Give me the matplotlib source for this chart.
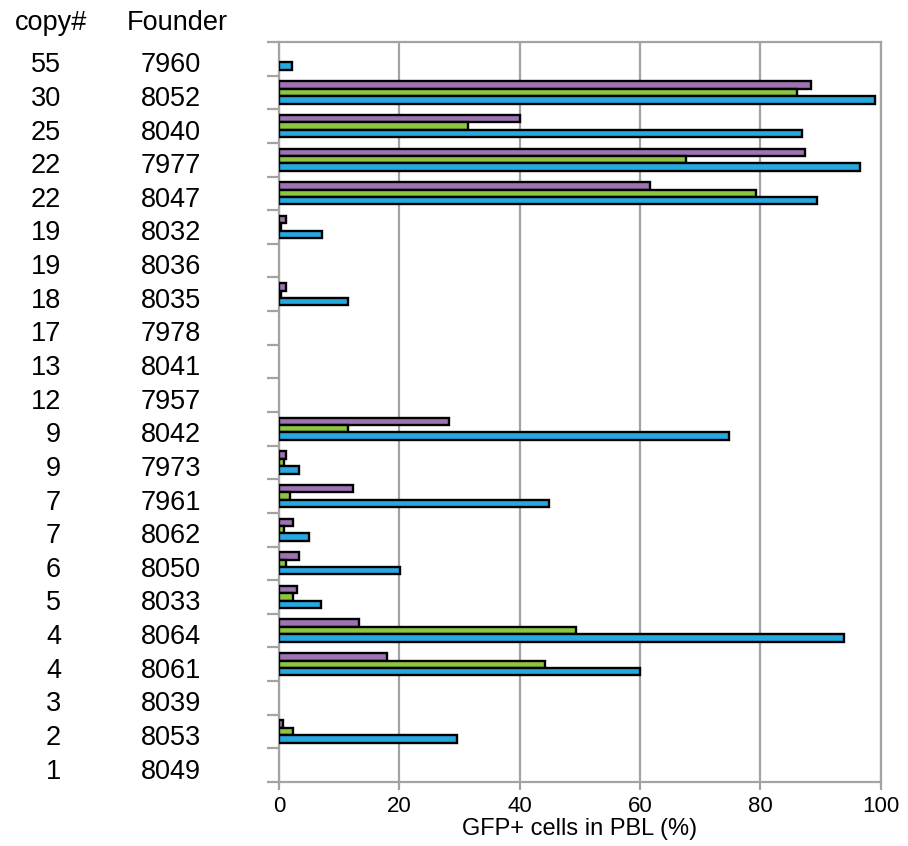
import numpy as np
import matplotlib.pyplot as plt
from matplotlib.transforms import blended_transform_factory

plt.rcParams['font.family'] = ['Liberation Sans', 'DejaVu Sans']

nan = np.nan
copies = [55, 30, 25, 22, 22, 19, 19, 18, 17, 13, 12, 9, 9, 7, 7, 6, 5, 4, 4, 3, 2, 1]
founders = ['7960', '8052', '8040', '7977', '8047', '8032', '8036', '8035', '7978', '8041',
            '7957', '8042', '7973', '7961', '8062', '8050', '8033', '8064', '8061', '8039',
            '8053', '8049']
purple_vals = [nan, 88.4, 40.0, 87.4, 61.6, 1.1, nan, 1.1, nan, nan, nan, 28.2, 1.1, 12.3,
               2.4, 3.4, 3.0, 13.3, 17.9, nan, 0.6, nan]
green_vals = [nan, 86.1, 31.4, 67.7, 79.3, 0.3, nan, 0.3, nan, nan, nan, 11.5, 0.8, 1.9,
              0.8, 1.1, 2.3, 49.3, 44.2, nan, 2.4, nan]
blue_vals = [2.1, 99.0, 87.0, 96.6, 89.4, 7.1, nan, 11.4, nan, nan, nan, 74.8, 3.3, 44.8,
             4.9, 20.1, 7.0, 93.9, 60.0, nan, 29.6, nan]

grid_c = '#a3a3a3'
fig = plt.figure(figsize=(9.08, 8.46), dpi=100)
ax = fig.add_axes([0.3073, 0.0757, 0.6626, 0.8747])

y = np.arange(len(founders))
h = 0.22
series = [(purple_vals, '#9d73b1', -h), (green_vals, '#8cc63f', 0.0), (blue_vals, '#27a9e0', h)]
for vals, col, off in series:
    ax.barh(y + off, vals, height=h, color=col, edgecolor='black', linewidth=1.7, zorder=3)

ax.set_xlim(0, 100)
ax.set_ylim(len(founders) - 0.5, -0.5)
ax.set_xticks(range(0, 101, 20))
ax.set_yticks(np.arange(-0.5, len(founders), 1.0))
ax.set_yticklabels([])
ax.xaxis.grid(True, color=grid_c, linewidth=1.6, zorder=0)
ax.tick_params(axis='y', length=9, width=1.6, color=grid_c)
ax.tick_params(axis='x', length=6, width=1.6, color=grid_c, labelsize=16, pad=4)
for s in ax.spines.values():
    s.set_color(grid_c)
    s.set_linewidth(1.6)
ax.set_xlabel('GFP+ cells in PBL (%)', fontsize=17, labelpad=1)

# two-column category labels on the left
tr = blended_transform_factory(fig.transFigure, ax.transData)
for i, (c, f) in enumerate(zip(copies, founders)):
    ax.text(61 / 908, i + 0.40, str(c), transform=tr, ha='right', va='baseline', fontsize=19.5)
    ax.text(141 / 908, i + 0.40, f, transform=tr, ha='left', va='baseline', fontsize=19.5)
fig.text(51 / 908, 1 - 30 / 846, 'copy#', ha='center', va='baseline', fontsize=19.5)
fig.text(177 / 908, 1 - 30 / 846, 'Founder', ha='center', va='baseline', fontsize=19.5)

fig.savefig('out.png', dpi=100)
